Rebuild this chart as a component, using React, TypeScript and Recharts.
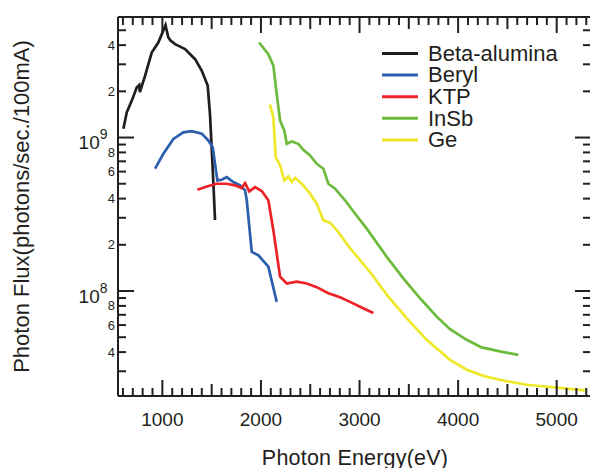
import React from 'react';
import { LineChart, Line, XAxis, YAxis, Legend, Label } from 'recharts';

const FONT = '"Liberation Sans", Arial, Helvetica, sans-serif';
const INK = '#231f20';

// ---- data (photon energy in eV, flux in photons/sec./100mA) ----
const betaEnergy = [605, 639, 690, 740, 765, 772, 790, 825, 892, 959, 1032, 1060, 1080, 1129, 1230, 1332, 1400, 1460, 1484, 1517, 1534];
const betaFlux = [1.14e9, 1.46e9, 1.74e9, 2.12e9, 2.2e9, 1.98e9, 2.15e9, 2.53e9, 3.58e9, 4.16e9, 5.4e9, 4.5e9, 4.3e9, 4.06e9, 3.77e9, 3.24e9, 2.72e9, 2.18e9, 1.39e9, 5.13e8, 2.9e8];

const berylEnergy = [926, 1010, 1112, 1213, 1298, 1400, 1466, 1511, 1534, 1558, 1602, 1653, 1720, 1788, 1839, 1856, 1907, 1974, 2075, 2160];
const berylFlux = [6.27e8, 7.84e8, 9.8e8, 1.08e9, 1.1e9, 1.06e9, 9.57e8, 8.65e8, 6.75e8, 5.26e8, 5.31e8, 5.52e8, 5.13e8, 4.88e8, 4.53e8, 3.9e8, 1.8e8, 1.71e8, 1.44e8, 8.5e7];

const ktpEnergy = [1355, 1450, 1552, 1653, 1737, 1805, 1839, 1882, 1940, 2008, 2075, 2126, 2194, 2262, 2363, 2465, 2566, 2684, 2802, 2904, 3005, 3140];
const ktpFlux = [4.57e8, 4.8e8, 5.0e8, 5.0e8, 4.88e8, 4.69e8, 5.05e8, 4.46e8, 4.75e8, 4.48e8, 3.9e8, 2.49e8, 1.24e8, 1.12e8, 1.15e8, 1.12e8, 1.06e8, 9.67e7, 9.1e7, 8.5e7, 7.9e7, 7.2e7];

const insbEnergy = [1981, 2075, 2126, 2160, 2194, 2237, 2262, 2312, 2379, 2430, 2498, 2566, 2633, 2684, 2752, 2853, 2954, 3073, 3276, 3444, 3614, 3783, 3918, 4087, 4239, 4425, 4611];
const insbFlux = [4.16e9, 3.49e9, 2.94e9, 1.92e9, 1.29e9, 1.11e9, 9.1e8, 9.42e8, 9.1e8, 8.32e8, 7.64e8, 6.75e8, 6.26e8, 5.0e8, 4.64e8, 3.9e8, 3.2e8, 2.55e8, 1.67e8, 1.21e8, 8.97e7, 6.81e7, 5.64e7, 4.81e7, 4.29e7, 4.04e7, 3.84e7];

const geEnergy = [2092, 2126, 2150, 2194, 2237, 2278, 2312, 2346, 2414, 2498, 2566, 2633, 2701, 2769, 2904, 3106, 3292, 3478, 3681, 3918, 4087, 4273, 4458, 4696, 4966, 5287];
const geFlux = [1.64e9, 1.36e9, 7.45e8, 6.58e8, 5.26e8, 5.58e8, 5.13e8, 5.45e8, 5.0e8, 4.31e8, 3.71e8, 2.89e8, 2.78e8, 2.49e8, 1.9e8, 1.33e8, 9.18e7, 6.65e7, 4.81e7, 3.56e7, 3.07e7, 2.78e7, 2.61e7, 2.45e7, 2.36e7, 2.25e7];

const seriesNames = ['Beta-alumina', 'Beryl', 'KTP', 'InSb', 'Ge'];
const seriesColors = ['#1f1d1e', '#2b5fad', '#ec2227', '#6cbb3c', '#eee829'];

// ---- ticks ----
const xMajorLabels = [1000, 2000, 3000, 4000, 5000];
const xTicks: number[] = [];
for (let v = 600; v <= 5300; v += 100) xTicks.push(v);

const yTicks = [3e7, 4e7, 5e7, 6e7, 7e7, 8e7, 9e7, 1e8, 2e8, 3e8, 4e8, 5e8, 6e8, 7e8, 8e8, 9e8, 1e9, 2e9, 3e9, 4e9, 5e9];
const yMinorLabelValues = [4e7, 6e7, 8e7, 2e8, 4e8, 6e8, 8e8, 2e9, 4e9];
const yMinorLabelTexts = ['4', '6', '8', '2', '4', '6', '8', '2', '4'];
const yDecadeValues = [1e8, 1e9];
const yDecadeExponents = ['8', '9'];

const toPoints = (xs: number[], ys: number[]) => xs.map((x, i) => ({ x, y: ys[i] }));
const series = [
  toPoints(betaEnergy, betaFlux),
  toPoints(berylEnergy, berylFlux),
  toPoints(ktpEnergy, ktpFlux),
  toPoints(insbEnergy, insbFlux),
  toPoints(geEnergy, geFlux),
];

const near = (a: number, b: number) => Math.abs(a / b - 1) < 1e-6;

const xTickLen = (v: number) => (v % 1000 === 0 ? 16 : v % 500 === 0 ? 12 : 8);
const yTickLen = (v: number) => (yDecadeValues.some((d) => near(d, v)) ? 16 : 8);

const BottomTick = (p: any) => {
  const { x, y, payload } = p;
  const v = payload.value;
  return (
    <g>
      <line x1={x} x2={x} y1={y} y2={y - xTickLen(v)} stroke={INK} strokeWidth={2} />
      {xMajorLabels.includes(v) && (
        <text x={x} y={y + 30} textAnchor="middle" fontSize={19} fontFamily={FONT} fill={INK}>
          {v}
        </text>
      )}
    </g>
  );
};

const TopTick = (p: any) => {
  const { x, y, payload } = p;
  return <line x1={x} x2={x} y1={y} y2={y + xTickLen(payload.value)} stroke={INK} strokeWidth={2} />;
};

const LeftTick = (p: any) => {
  const { x, y, payload } = p;
  const v = payload.value;
  const di = yDecadeValues.findIndex((d) => near(d, v));
  const mi = yMinorLabelValues.findIndex((d) => near(d, v));
  return (
    <g>
      <line x1={x} x2={x + yTickLen(v)} y1={y} y2={y} stroke={INK} strokeWidth={2} />
      {di >= 0 && (
        <text x={x - 10.5} y={y + 11.5} textAnchor="end" fontFamily={FONT} fill={INK}>
          <tspan fontSize={19}>10</tspan>
          <tspan fontSize={14} dy={-10}>
            {yDecadeExponents[di]}
          </tspan>
        </text>
      )}
      {mi >= 0 && (
        <text x={x - 3} y={y + 4.6} textAnchor="end" fontSize={13} fontFamily={FONT} fill={INK}>
          {yMinorLabelTexts[mi]}
        </text>
      )}
    </g>
  );
};

const RightTick = (p: any) => {
  const { x, y, payload } = p;
  return <line x1={x} x2={x - yTickLen(payload.value)} y1={y} y2={y} stroke={INK} strokeWidth={2} />;
};

const LegendContent = () => (
  <svg width={590} height={160} style={{ display: 'block', overflow: 'visible' }}>
    {seriesNames.map((name, i) => {
      const ly = 53.5 + i * 21.6;
      return (
        <g key={name}>
          <line x1={382} x2={418} y1={ly} y2={ly} stroke={seriesColors[i]} strokeWidth={3} />
          <text x={428} y={ly + 7.3} fontSize={22} fontFamily={FONT} fill={INK}>
            {name}
          </text>
        </g>
      );
    })}
  </svg>
);

const axisLineStyle = { stroke: INK, strokeWidth: 2 };
const X_DOMAIN: [number, number] = [550, 5348];
const Y_DOMAIN: [number, number] = [2.07e7, 6.1e9];

export default function App() {
  return (
    <div style={{ position: 'fixed', left: 0, top: 0, width: 590, height: 468, overflow: 'hidden', background: '#fff' }}>
      <LineChart width={596} height={468} margin={{ top: 15, right: 0, bottom: 0, left: 0 }} style={{ fontFamily: FONT }}>
        <XAxis
          xAxisId="b"
          type="number"
          dataKey="x"
          domain={X_DOMAIN}
          allowDataOverflow
          ticks={xTicks}
          interval={0}
          tickSize={0}
          tickMargin={0}
          tickLine={false}
          tick={BottomTick}
          height={72}
          axisLine={axisLineStyle}
        >
          <Label
            content={() => (
              <text x={355} y={465} textAnchor="middle" fontSize={21.5} letterSpacing={0.2} fontFamily={FONT} fill={INK}>
                Photon Energy(eV)
              </text>
            )}
          />
        </XAxis>
        <XAxis
          xAxisId="t"
          orientation="top"
          type="number"
          dataKey="x"
          domain={X_DOMAIN}
          allowDataOverflow
          ticks={xTicks}
          interval={0}
          tickSize={0}
          tickMargin={0}
          tickLine={false}
          tick={TopTick}
          height={2}
          axisLine={axisLineStyle}
        />
        <YAxis
          yAxisId="l"
          type="number"
          scale="log"
          domain={Y_DOMAIN}
          allowDataOverflow
          ticks={yTicks}
          interval={0}
          tickSize={0}
          tickMargin={0}
          tickLine={false}
          tick={LeftTick}
          width={118}
          axisLine={axisLineStyle}
        >
          <Label
            content={() => (
              <text
                x={0}
                y={0}
                transform="translate(28.5,206.5) rotate(-90)"
                textAnchor="middle"
                fontSize={22}
                fontFamily={FONT}
                fill={INK}
              >
                Photon Flux(photons/sec./100mA)
              </text>
            )}
          />
        </YAxis>
        <YAxis
          yAxisId="r"
          orientation="right"
          type="number"
          scale="log"
          domain={Y_DOMAIN}
          allowDataOverflow
          ticks={yTicks}
          interval={0}
          tickSize={0}
          tickMargin={0}
          tickLine={false}
          tick={RightTick}
          width={5}
          axisLine={axisLineStyle}
        />
        <Legend
          layout="vertical"
          align="center"
          verticalAlign="middle"
          wrapperStyle={{ left: 0, top: 0, width: 590, height: 160, margin: 0, padding: 0 }}
          content={LegendContent}
        />
        {series.map((pts, i) => (
          <Line
            key={seriesNames[i]}
            name={seriesNames[i]}
            xAxisId="b"
            yAxisId="l"
            data={pts}
            dataKey="y"
            type="linear"
            stroke={seriesColors[i]}
            strokeWidth={2.7}
            dot={false}
            activeDot={false}
            isAnimationActive={false}
          />
        ))}
      </LineChart>
    </div>
  );
}
